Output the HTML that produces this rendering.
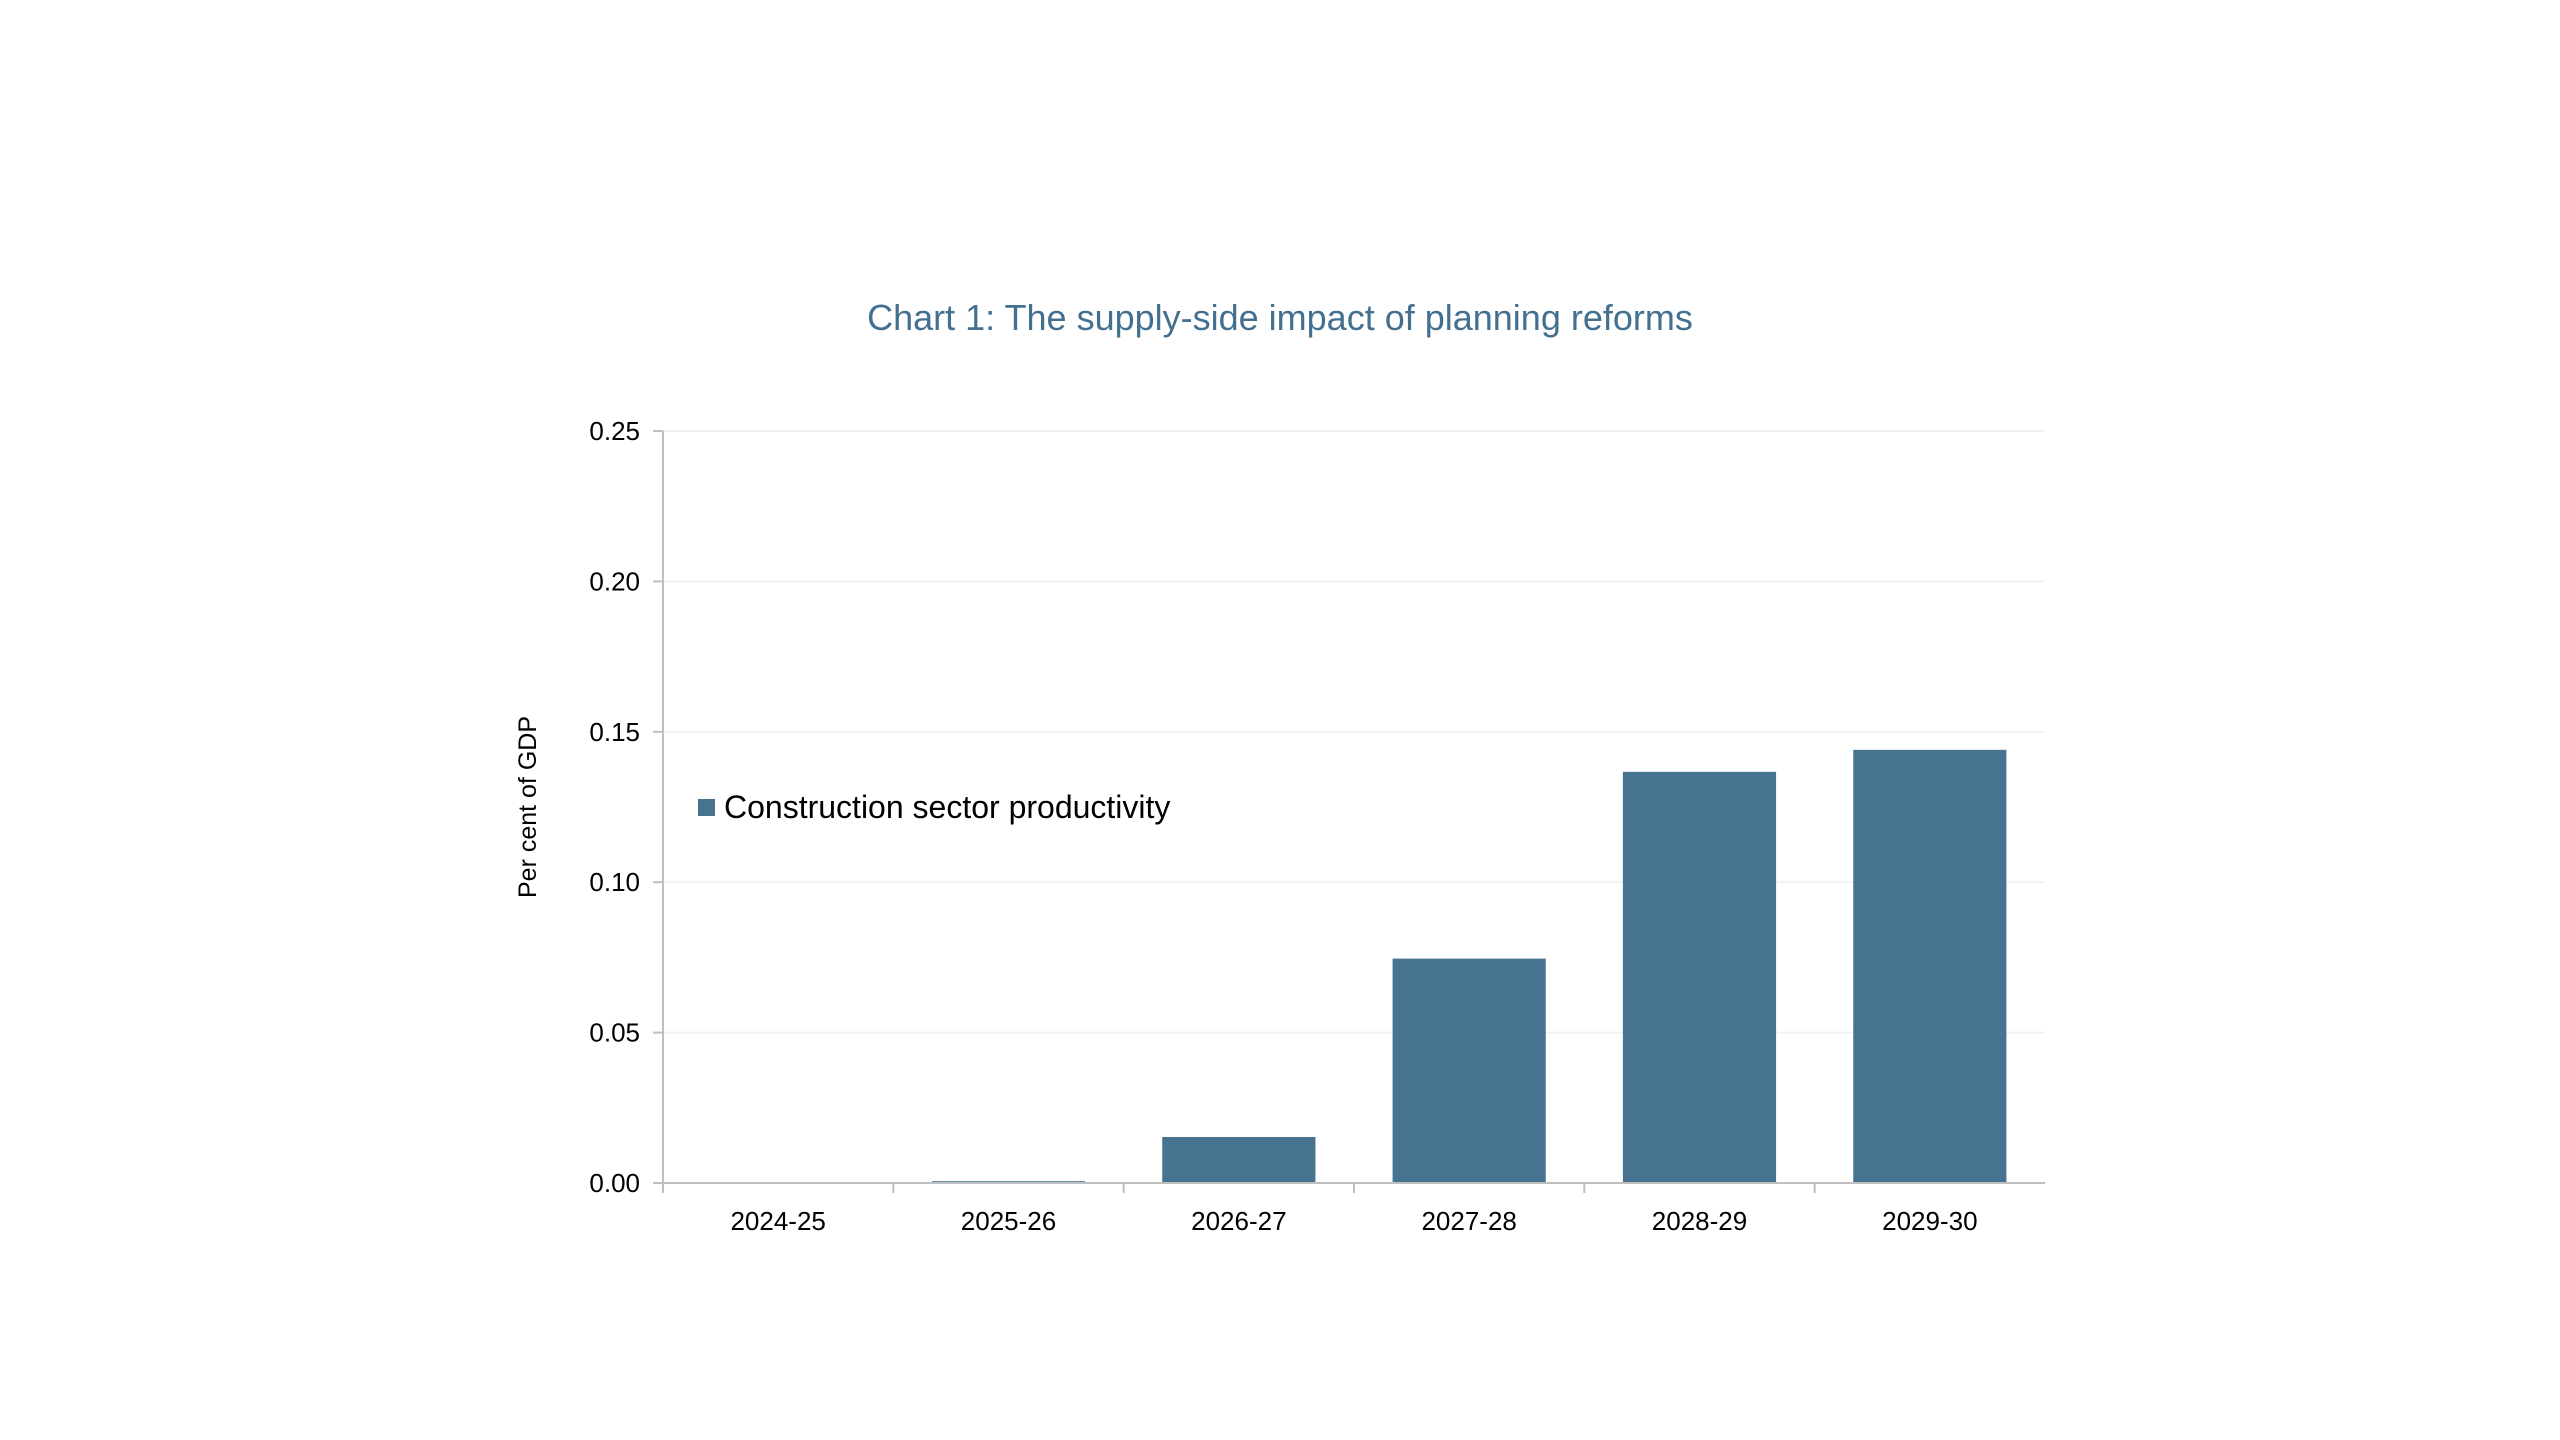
<!DOCTYPE html>
<html><head><meta charset="utf-8"><style>
html,body{margin:0;padding:0;background:#fff;}
svg{display:block;font-family:"Liberation Sans",sans-serif;}
</style></head><body>
<svg id="chart" width="2560" height="1440" viewBox="0 0 2560 1440">
<text x="1280" y="330" text-anchor="middle" font-size="36" fill="#44708f">Chart 1: The supply-side impact of planning reforms</text>
<g id="grid"></g>
<g id="bars"></g>
<g id="axes"></g>
<text transform="translate(536,807) rotate(-90)" text-anchor="middle" font-size="25" fill="#000">Per cent of GDP</text>
<g>
<rect x="698" y="799" width="17" height="17" fill="#46738f"></rect>
<text x="724" y="818" font-size="32" fill="#000">Construction sector productivity</text>
</g>
</svg>
<script>
const categories = ["2024-25","2025-26","2026-27","2027-28","2028-29","2029-30"];
const values = [0, 0.0006, 0.0153, 0.0746, 0.1367, 0.144];
const yTicks = [0, 0.05, 0.10, 0.15, 0.20, 0.25];
const yTickLabels = ["0.00","0.05","0.10","0.15","0.20","0.25"];

const NS = "http://www.w3.org/2000/svg";
const X0 = 663, X1 = 2045, Y0 = 1183, Y1 = 431, YMAX = 0.25;
const bandW = (X1 - X0) / categories.length;
const barW = bandW * 0.665;
function yScale(v){ return Y0 - (v / YMAX) * (Y0 - Y1); }
function xBand(i){ return X0 + i * bandW; }
function mk(tag, attrs, parent){
  const e = document.createElementNS(NS, tag);
  for (const k in attrs) e.setAttribute(k, attrs[k]);
  parent.appendChild(e); return e;
}
const grid = document.getElementById('grid');
const bars = document.getElementById('bars');
const axes = document.getElementById('axes');

yTicks.forEach((t, i) => {
  const y = yScale(t);
  if (t > 0) {
    const g = mk('line', {x1: X0, x2: X1, y1: y, y2: y, stroke: '#f2f2f2', 'stroke-width': 2}, grid);
    
    
  }
  const tk = mk('line', {x1: X0 - 10, x2: X0, y1: y, y2: y, stroke: '#bfbfbf', 'stroke-width': 2}, axes);
  
  
  const lb = mk('text', {x: 640, y: y + 9, 'text-anchor': 'end', 'font-size': 26, fill: '#000'}, axes);
  lb.textContent = yTickLabels[i];
  
  
});

values.forEach((v, i) => {
  const x = xBand(i) + (bandW - barW) / 2;
  const y = yScale(v);
  const r = mk('rect', {x: x, y: y, width: barW, height: Math.max(Y0 - y, 0), fill: '#46738f'}, bars);
  
  
});

const ya = mk('line', {x1: X0, x2: X0, y1: Y1, y2: Y0 + 10, stroke: '#bfbfbf', 'stroke-width': 2}, axes);


const xa = mk('line', {x1: X0 - 10, x2: X1, y1: Y0, y2: Y0, stroke: '#bfbfbf', 'stroke-width': 2}, axes);



categories.forEach((c, i) => {
  const xt = xBand(i);
  if (i > 0) {
    const tk = mk('line', {x1: xt, x2: xt, y1: Y0, y2: Y0 + 10, stroke: '#bfbfbf', 'stroke-width': 2}, axes);
    
    
  }
  const lb = mk('text', {x: xt + bandW / 2, y: 1230, 'text-anchor': 'middle', 'font-size': 26, fill: '#000'}, axes);
  lb.textContent = c;
  
  
});
</script>
</body></html>
